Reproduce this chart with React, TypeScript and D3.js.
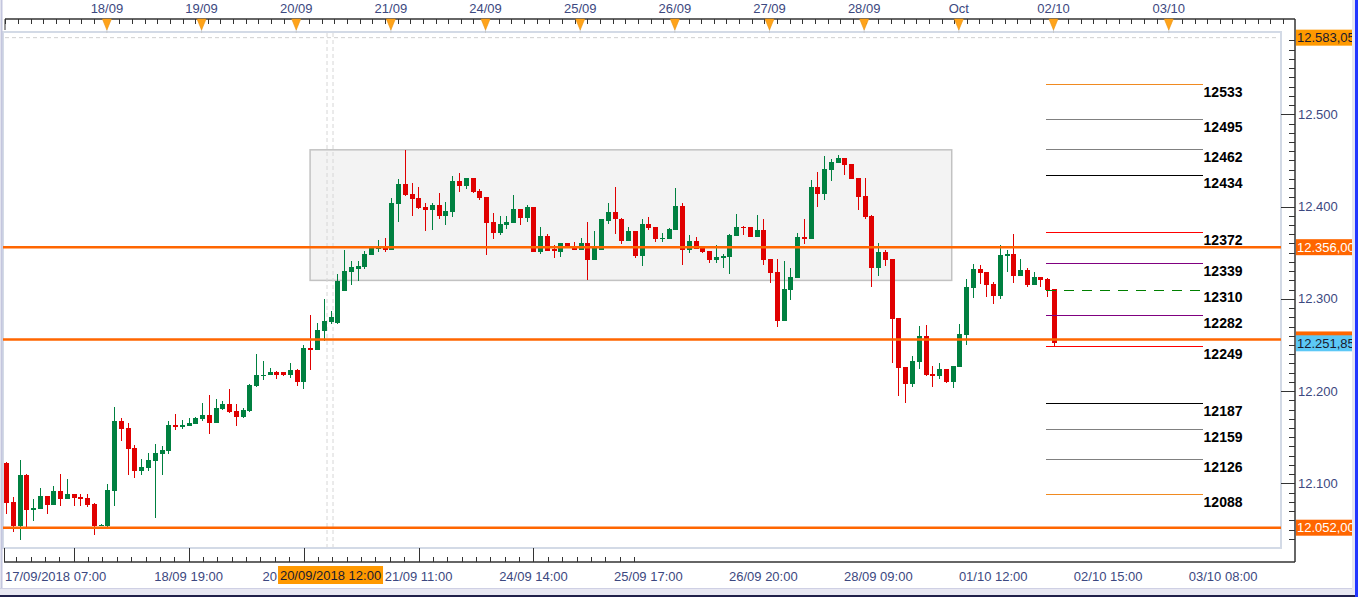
import React from 'react';
import * as d3 from 'd3';

// ---------- DATA ----------
const openP = [12122,12080,12054,12109,12071,12072,12086,12077,12092,12083,12088,12085,12084,12078,12054,12054,12092,12168,12160,12138,12113,12117,12124,12132,12135,12163,12161,12162,12164,12170,12174,12165,12181,12186,12178,12172,12178,12206,12216,12217,12221,12221,12218,12223,12210,12247,12245,12265,12275,12274,12309,12329,12332,12334,12347,12354,12356,12353,12403,12424,12414,12409,12400,12396,12402,12390,12394,12428,12422,12431,12417,12410,12383,12371,12380,12382,12397,12388,12400,12351,12368,12354,12351,12360,12357,12353,12360,12342,12353,12384,12394,12387,12363,12373,12346,12381,12378,12365,12365,12375,12401,12353,12363,12356,12352,12342,12344,12345,12368,12378,12378,12367,12375,12343,12329,12276,12310,12323,12367,12365,12421,12414,12440,12447,12453,12446,12431,12412,12390,12333,12351,12343,12279,12226,12208,12232,12260,12219,12216,12224,12210,12226,12261,12312,12332,12329,12316,12303,12346,12349,12325,12331,12315,12324,12322,12311];
const highP = [12123,12085,12125,12110,12083,12095,12086,12097,12110,12105,12088,12088,12088,12079,12056,12099,12183,12171,12166,12142,12126,12133,12143,12140,12168,12175,12169,12171,12172,12187,12196,12192,12189,12202,12186,12182,12208,12240,12233,12225,12222,12221,12230,12224,12250,12282,12274,12300,12287,12327,12353,12341,12341,12352,12357,12364,12366,12409,12430,12461,12426,12421,12404,12404,12415,12405,12433,12436,12431,12431,12419,12410,12393,12390,12390,12413,12397,12402,12400,12378,12370,12358,12361,12361,12362,12366,12383,12373,12387,12404,12421,12388,12378,12373,12386,12389,12378,12371,12377,12420,12404,12369,12367,12356,12352,12358,12349,12370,12392,12379,12378,12391,12386,12343,12343,12341,12333,12371,12387,12429,12438,12455,12452,12456,12453,12446,12431,12431,12391,12361,12353,12343,12279,12226,12238,12271,12272,12227,12231,12224,12227,12273,12322,12338,12337,12329,12318,12358,12353,12370,12343,12333,12329,12324,12323,12311];
const lowP = [12067,12047,12039,12052,12059,12072,12067,12077,12075,12083,12076,12076,12074,12044,12054,12053,12075,12146,12109,12106,12109,12113,12063,12109,12132,12158,12159,12162,12164,12168,12154,12165,12180,12176,12162,12171,12177,12204,12212,12217,12213,12216,12214,12206,12202,12223,12245,12254,12273,12273,12308,12315,12319,12332,12347,12351,12351,12353,12383,12411,12390,12397,12374,12375,12387,12380,12389,12416,12419,12415,12407,12347,12365,12369,12376,12382,12380,12383,12351,12349,12352,12344,12345,12357,12353,12353,12320,12342,12353,12381,12370,12359,12363,12344,12336,12375,12362,12362,12365,12375,12337,12350,12354,12350,12339,12339,12333,12327,12368,12369,12367,12367,12337,12317,12270,12276,12299,12323,12359,12365,12399,12407,12428,12447,12434,12430,12396,12387,12313,12325,12336,12231,12195,12187,12205,12224,12216,12205,12213,12209,12203,12226,12250,12301,12316,12302,12294,12300,12329,12317,12325,12313,12315,12313,12302,12249];
const closeP = [12079,12054,12109,12071,12073,12086,12077,12092,12083,12088,12084,12083,12077,12054,12055,12093,12168,12159,12137,12113,12118,12125,12133,12136,12163,12161,12163,12165,12171,12174,12165,12182,12186,12177,12172,12180,12207,12217,12218,12221,12218,12218,12223,12210,12247,12245,12266,12276,12280,12319,12330,12334,12336,12349,12356,12356,12353,12404,12424,12413,12408,12398,12396,12402,12390,12395,12428,12422,12431,12416,12409,12382,12371,12381,12383,12397,12388,12400,12351,12368,12352,12352,12360,12357,12353,12360,12342,12356,12386,12394,12386,12363,12373,12346,12381,12377,12365,12366,12376,12401,12353,12363,12354,12351,12342,12345,12346,12369,12378,12377,12367,12375,12342,12328,12276,12311,12324,12367,12365,12421,12414,12441,12448,12453,12445,12430,12410,12389,12333,12351,12342,12278,12225,12208,12233,12260,12218,12216,12224,12210,12227,12262,12313,12332,12328,12315,12303,12348,12349,12325,12331,12315,12324,12320,12310,12252];

const topDayLabels = ["18/09","19/09","20/09","21/09","24/09","25/09","26/09","27/09","28/09","Oct","02/10","03/10"];
const topDayPos = [14.85,28.85,42.85,56.85,70.85,84.85,98.85,112.85,126.85,140.85,154.85,171.9];

// label under the crosshair tag: only its first characters show
const bottomLabels = ["","18/09 19:00","20","21/09 11:00","24/09 14:00","25/09 17:00","26/09 20:00","28/09 09:00","01/10 12:00","02/10 15:00","03/10 08:00"];
const bottomLabelPos = [9.94,26.94,43.94,60.94,77.94,94.94,111.94,128.94,145.94,162.94,179.94];
const firstBottomLabel = "17/09/2018 07:00";
const crossLabel = "20/09/2018 12:00";
const crossPos = 47.85;

const levelValues = [12533,12495,12462,12434,12372,12339,12310,12282,12249,12187,12159,12126,12088];
const levelLabels = ["12533","12495","12462","12434","12372","12339","12310","12282","12249","12187","12159","12126","12088"];
const levelStart = 153.8;
const levelEnd = 176.9;

const srLevels = [12356, 12256, 12052];
const srLabels = ["12.356,00", "", "12.052,00"];
const rangeBox = [44.9, 139.8, 12320, 12461.5];
const maxPrice = 12583.05;
const maxLabel = "12.583,05";
const lastPrice = 12251.85;
const lastLabel = "12.251,85";
const axisTicks = [12100, 12200, 12300, 12400, 12500];
const axisTickLabels = ["12.100", "12.200", "12.300", "12.400", "12.500"];

// ---------- STYLES ----------
const levelColors = ["#f08a20","#808080","#808080","#000000","#ff0000","#800080","#008000","#800080","#ff0000","#000000","#808080","#808080","#f08a20"];
const levelDash = [null,null,null,null,null,null,"10,8",null,null,null,null,null,null];
const FONT = "'Liberation Sans', Arial, sans-serif";
const AXIS_COL = "#3c4880";
const GREEN = "#008040";
const RED = "#e00000";
const ORANGE = "#ff6600";

export default function App() {
  const W = 1358, H = 597;
  const x = d3.scaleLinear().domain([0, 155]).range([6.5, 1054.5]);
  const y = d3.scaleLinear().domain([12052, 12500]).range([527.7, 114.3]);

  const plotL = 3, plotR = 1281, plotT = 32, plotB = 548;
  const axisX = 1295, topAxisY = 19, botAxisY = 562;

  const topTicks = d3.range(-0.163, 200, 1.871).map(v => x(v)).filter(px => px >= 5 && px <= axisX);
  const botTicks = d3.range(-40, 40).map(k => ({ k, v: bottomLabelPos[0] + k * 17 / 8 }))
    .map(d => ({ ...d, px: x(d.v) })).filter(d => d.px >= 10 && d.px <= axisX - 2);
  const yTicks = d3.range(12040, 12590, 10).filter(v => y(v) >= plotT && y(v) <= botAxisY);

  const candles = openP.map((o, i) => {
    const c = closeP[i], h = highP[i], l = lowP[i];
    const cx = x(i);
    const bx = Math.round(cx - 2.5);
    const top = y(Math.max(o, c)), bot = y(Math.min(o, c));
    const col = c >= o ? GREEN : RED;
    return (
      <g key={i}>
        <line x1={bx + 2.5} x2={bx + 2.5} y1={y(h)} y2={y(l)} stroke={col} strokeWidth={1} />
        <rect x={bx} y={top} width={5} height={Math.max(1.5, bot - top)} fill={col} />
      </g>
    );
  });

  const rightBox = (val: number, label: string, bg: string, fg: string, key: string) => (
    <g key={key}>
      <rect x={1296} y={y(val) - 8} width={58} height={16} fill={bg} />
      {label ? <text x={1297} y={y(val) + 4.5} fontSize={13} fill={fg} fontFamily={FONT}>{label}</text> : null}
    </g>
  );

  const crossX = x(crossPos);

  return (
    <svg width={W} height={H} style={{ position: 'absolute', left: 0, top: 0, background: '#fff' }}>
      <rect x={0} y={0} width={W} height={H} fill="#ffffff" />

      {/* plot frame */}
      <rect x={plotL} y={plotT} width={plotR - plotL} height={plotB - plotT} fill="#ffffff" stroke="#d3dae6" strokeWidth={2} />
      <line x1={plotL + 2} x2={plotR - 2} y1={y(maxPrice)} y2={y(maxPrice)} stroke="#d0d0d0" strokeDasharray="4,3" />

      {/* range box */}
      <rect x={x(rangeBox[0])} y={y(rangeBox[3])} width={x(rangeBox[1]) - x(rangeBox[0])} height={y(rangeBox[2]) - y(rangeBox[3])}
        fill="#f3f3f3" stroke="#c2c2c2" strokeWidth={1.5} />

      {/* crosshair */}
      <line x1={crossX - 3} x2={crossX - 3} y1={plotT + 1} y2={plotB - 1} stroke="#d6d6d6" strokeDasharray="4,3" />
      <line x1={crossX + 3} x2={crossX + 3} y1={plotT + 1} y2={plotB - 1} stroke="#d6d6d6" strokeDasharray="4,3" />

      {/* candles */}
      <g shapeRendering="crispEdges">{candles}</g>

      {/* support / resistance lines */}
      {srLevels.map((v, i) => (
        <line key={'sr' + i} x1={plotL} x2={plotR} y1={y(v)} y2={y(v)} stroke={ORANGE} strokeWidth={2.5} />
      ))}

      {/* level lines */}
      <g>
        {levelValues.map((v, i) => (
          <g key={'lv' + i}>
            <line x1={x(levelStart)} x2={x(levelEnd)} y1={Math.round(y(v)) + 0.5} y2={Math.round(y(v)) + 0.5}
              stroke={levelColors[i]} strokeWidth={1} strokeDasharray={levelDash[i] || undefined} shapeRendering="crispEdges" />
            <text x={x(levelEnd) + 1} y={y(v) + 12.7} fontSize={14} fontWeight="bold" fill="#000" fontFamily={FONT}>{levelLabels[i]}</text>
          </g>
        ))}
      </g>

      {/* top axis */}
      <line x1={5} x2={axisX} y1={topAxisY} y2={topAxisY} stroke="#333" strokeWidth={1.5} />
      <line x1={5} x2={5} y1={topAxisY} y2={30} stroke="#333" />
      {topTicks.map((px, i) => (
        <line key={'tt' + i} x1={Math.round(px) + 0.5} x2={Math.round(px) + 0.5} y1={topAxisY} y2={24} stroke="#333" />
      ))}
      {topDayPos.map((p, i) => {
        const px = x(p);
        return (
          <g key={'td' + i}>
            <line x1={px} x2={px} y1={30} y2={33} stroke="#c8c8c8" />
            <path d={`M${px - 4.5},${topAxisY} L${px + 4.5},${topAxisY} L${px},${30} Z`} fill="#ffa31a" stroke="#e8900c" strokeWidth={0.6} />
            <text x={px} y={13} fontSize={13} fill={AXIS_COL} textAnchor="middle" fontFamily={FONT}>{topDayLabels[i]}</text>
          </g>
        );
      })}

      {/* right axis */}
      <line x1={axisX} x2={axisX} y1={topAxisY} y2={botAxisY} stroke="#333" strokeWidth={1.5} />
      {yTicks.map(v => {
        const major = v % 100 === 0;
        const py = Math.round(y(v)) + 0.5;
        return <line key={'yt' + v} x1={major ? 1281 : 1289} x2={axisX} y1={py} y2={py} stroke="#333" />;
      })}
      {axisTicks.map((v, i) => (
        <text key={'yl' + v} x={1298} y={y(v) + 4.5} fontSize={13} fill={AXIS_COL} fontFamily={FONT}>{axisTickLabels[i]}</text>
      ))}
      {rightBox(maxPrice, maxLabel, "#ff9900", "#1a1a2e", "mx")}
      {rightBox(srLevels[0], srLabels[0], ORANGE, "#ffffff", "r1")}
      {rightBox(srLevels[1], srLabels[1], ORANGE, "#ffffff", "r2")}
      {rightBox(lastPrice, lastLabel, "#5cc8f6", "#1a1a2e", "lp")}
      {rightBox(srLevels[2], srLabels[2], ORANGE, "#ffffff", "r3")}

      {/* bottom axis */}
      <line x1={4} x2={axisX} y1={botAxisY} y2={botAxisY} stroke="#333" strokeWidth={1.5} />
      <line x1={4.5} x2={4.5} y1={plotB} y2={botAxisY} stroke="#333" />
      {botTicks.map(d => {
        const major = ((d.k % 8) + 8) % 8 === 0;
        const px = Math.round(d.px) + 0.5;
        return <line key={'bt' + d.k} x1={px} x2={px} y1={major ? plotB : 557} y2={botAxisY} stroke="#333" />;
      })}
      <text x={5} y={581} fontSize={13} fill={AXIS_COL} fontFamily={FONT}>{firstBottomLabel}</text>
      {bottomLabels.map((lb, i) => {
        if (!lb) return null;
        if (i === 2) {
          return <text key={'bl' + i} x={crossX - 53} y={581} fontSize={13} fill={AXIS_COL} textAnchor="end" fontFamily={FONT}>{lb}</text>;
        }
        return <text key={'bl' + i} x={x(bottomLabelPos[i])} y={581} fontSize={13} fill={AXIS_COL} textAnchor="middle" fontFamily={FONT}>{lb}</text>;
      })}
      <rect x={crossX - 52} y={566} width={105} height={18} fill="#ff9900" />
      <text x={crossX + 0.5} y={580} fontSize={13} fill="#1a1a2e" textAnchor="middle" fontFamily={FONT}>{crossLabel}</text>

      {/* window borders */}
      <line x1={1.5} x2={1.5} y1={0} y2={589} stroke="#c4c6de" strokeWidth={2} />
      <rect x={0} y={588} width={W} height={7} fill="#e8e8f2" />
      <line x1={0} x2={W} y1={588.5} y2={588.5} stroke="#cfd0e4" />
      <rect x={0} y={595} width={W} height={2} fill="#20204a" />
      <rect x={1352} y={0} width={3} height={595} fill="#e6e6f2" />
      <rect x={1355} y={0} width={3} height={H} fill="#2236ff" />
    </svg>
  );
}
